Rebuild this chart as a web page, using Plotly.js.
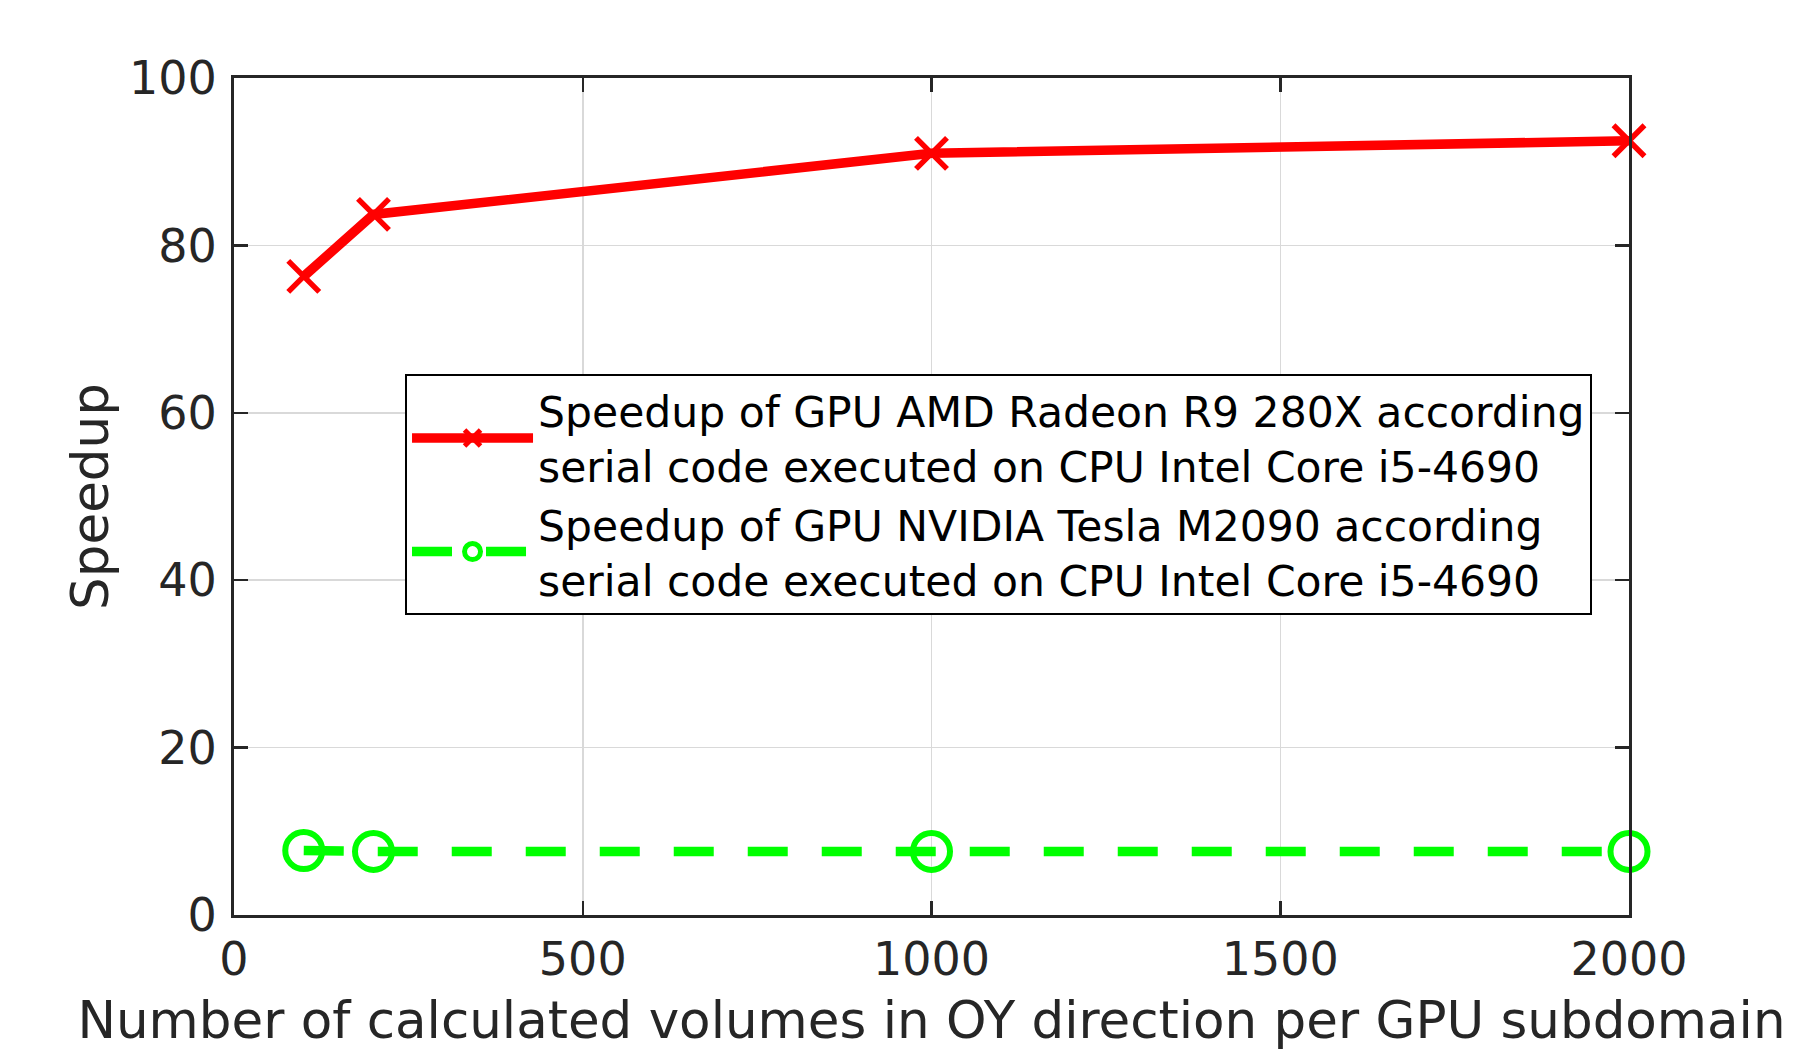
<!DOCTYPE html>
<html>
<head>
<meta charset="utf-8">
<script src="https://cdn.plot.ly/plotly-3.0.1.min.js"></script>
<style>html,body{margin:0;padding:0;background:#fff;}#chart{width:1800px;height:1050px;}</style>
</head>
<body>
<div id="chart"></div>
<script>
var xValues = [100, 200, 1000, 2000];
var amdSpeedup = [76.3, 83.7, 91.0, 92.5];
var nvidiaSpeedup = [7.7, 7.6, 7.6, 7.6];
var xTicks = [0, 500, 1000, 1500, 2000];
var yTicks = [0, 20, 40, 60, 80, 100];
var amdName = 'Speedup of GPU AMD Radeon R9 280X according<br>serial code executed on CPU Intel Core i5-4690';
var nvidiaName = 'Speedup of GPU NVIDIA Tesla M2090 according<br>serial code executed on CPU Intel Core i5-4690';
var xTitle = 'Number of calculated volumes in OY direction per GPU subdomain';
var yTitle = 'Speedup';

var font = 'DejaVu Sans, sans-serif';
var axisColor = '#262626';

var traces = [
  {
    x: xValues, y: amdSpeedup, name: amdName, type: 'scatter', mode: 'lines+markers',
    line: {color: '#ff0000', width: 9.5},
    marker: {symbol: 'x-thin-open', size: 31, color: '#ff0000', line: {color: '#ff0000', width: 5.5}},
    cliponaxis: false
  },
  {
    x: xValues, y: nvidiaSpeedup, name: nvidiaName, type: 'scatter', mode: 'lines+markers',
    line: {color: '#00ff00', width: 9.5, dash: '40px,34px'},
    marker: {symbol: 'circle-open', size: 37, color: '#00ff00', line: {color: '#00ff00', width: 6}},
    cliponaxis: false
  }
];

var axisCommon = {
  showline: true, linecolor: axisColor, linewidth: 3, mirror: 'ticks',
  ticks: 'inside', ticklen: 14, tickwidth: 2.5, tickcolor: axisColor,
  showgrid: true, gridcolor: '#d9d9d9', gridwidth: 1.5, zeroline: false,
  tickfont: {family: font, size: 46, color: axisColor}
};

var layout = {
  width: 1800, height: 1050,
  margin: {l: 234, r: 171, t: 78, b: 135, pad: 0},
  paper_bgcolor: '#ffffff', plot_bgcolor: '#ffffff',
  showlegend: true,
  xaxis: Object.assign({}, axisCommon, {
    range: [0, 2000], tickmode: 'array', tickvals: xTicks, ticktext: xTicks.map(String),
    ticklabelstandoff: 2,
    title: {text: xTitle, font: {family: font, size: 51.5, color: axisColor}, standoff: 18}
  }),
  yaxis: Object.assign({}, axisCommon, {
    range: [0, 100], tickmode: 'array', tickvals: yTicks, ticktext: yTicks.map(String),
    ticklabelstandoff: 5,
    title: {text: yTitle, font: {family: font, size: 51.5, color: axisColor}, standoff: 4}
  }),
  legend: {
    x: 0.1226, xanchor: 'left', y: 0.646, yanchor: 'top',
    bgcolor: '#ffffff', bordercolor: '#000000', borderwidth: 2,
    font: {family: font, size: 42.5, color: '#000000'},
    itemwidth: 121, tracegroupgap: 0
  }
};

Plotly.newPlot('chart', traces, layout, {displayModeBar: false, staticPlot: true});
</script>
</body>
</html>
